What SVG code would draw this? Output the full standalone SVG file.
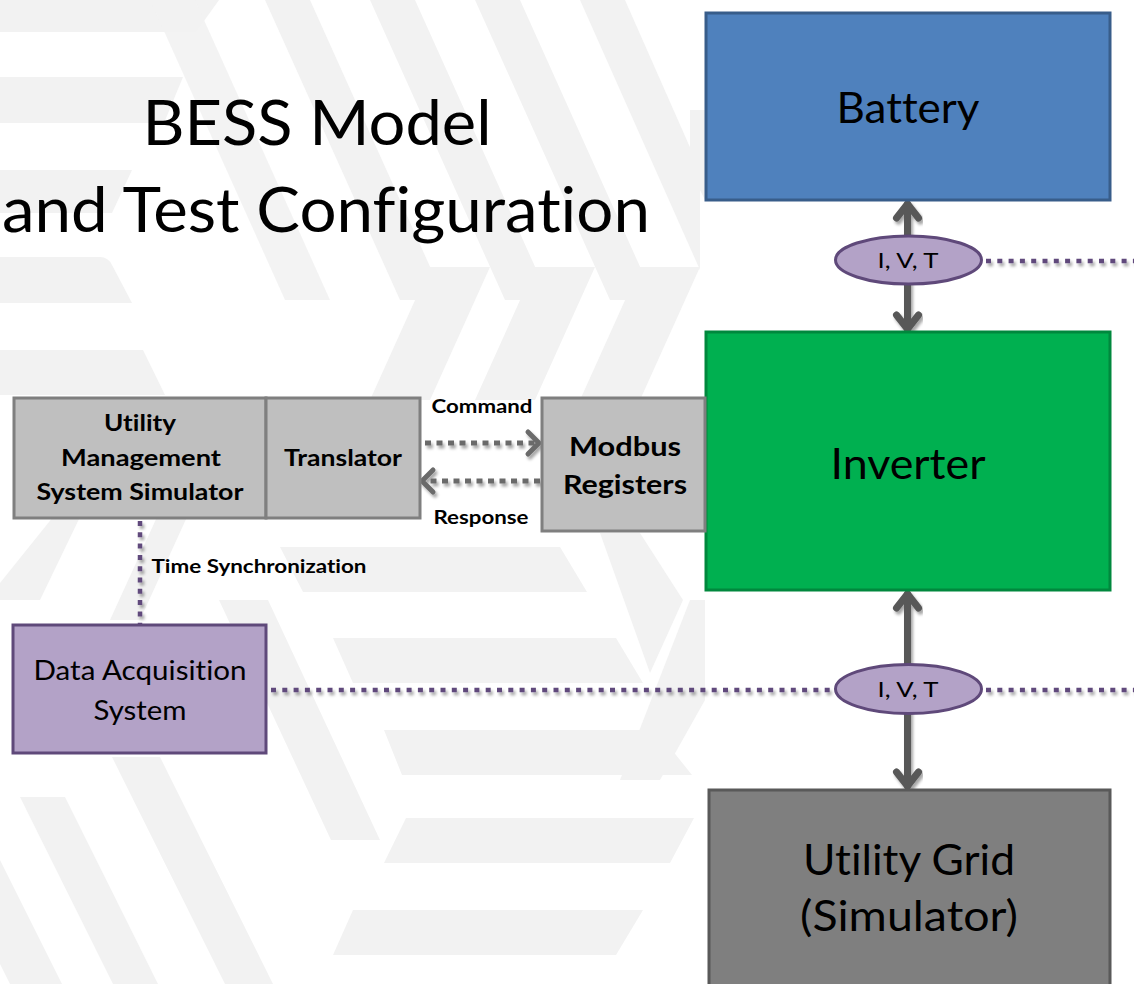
<svg xmlns="http://www.w3.org/2000/svg" width="1134" height="984" viewBox="0 0 1134 984">
  <defs>
    <style>
      .bg { fill: #f2f2f2; }
      .lbl { font-family: Lato, "Liberation Sans", sans-serif; fill: #000; text-anchor: middle; font-variant-ligatures: none; }
      .b { font-weight: bold; }
      .box { stroke-width: 3; }
      .power { stroke: #595959; stroke-width: 7; fill: none; stroke-linecap: round; stroke-linejoin: round; }
      .cmd { stroke: #6b6b6b; stroke-width: 5; fill: none; stroke-dasharray: 6 5.5; }
      .head { stroke: #6b6b6b; stroke-width: 5; fill: none; stroke-linecap: round; stroke-linejoin: round; }
      .sense { stroke: #604a7b; stroke-width: 4.5; fill: none; stroke-dasharray: 5 6.3; }
    </style>
    <filter id="shadow" x="-20%" y="-20%" width="140%" height="140%">
      <feDropShadow dx="2" dy="3" stdDeviation="1.6" flood-color="#000" flood-opacity="0.35"/>
    </filter>
  </defs>

  <rect width="1134" height="984" fill="#fff"/>

  <!-- faint background chevron pattern -->
  <g id="pattern">
    <path class="bg" d="M0,0 H219 L196,32 H0 Z"/>
    <path class="bg" d="M0,77 H183 L164,123 H0 Z"/>
    <path class="bg" d="M0,170 H132 L112,213 H0 Z"/>
    <path class="bg" d="M0,257 H100 Q108,257 112,265 L132,303 H0 Z"/>
    <path class="bg" d="M0,350 H143 L165,395 H0 Z"/>
    <path class="bg" d="M265,0 H310 L445,300 H400 Z"/>
    <path class="bg" d="M370,0 H415 L550,300 H505 Z"/>
    <path class="bg" d="M475,0 H520 L655,300 H610 Z"/>
    <path class="bg" d="M580,0 H625 L700,170 V270 Z"/>
    <path class="bg" d="M150,0 H195 L330,300 H285 Z" opacity="0.9"/>
    <path class="bg" d="M430,267 H490 L430,400 H370 Z"/>
    <path class="bg" d="M535,267 H595 L535,400 H475 Z"/>
    <path class="bg" d="M640,267 H700 L640,400 H580 Z"/>
    <path class="bg" d="M53,517 H80 L40,600 H0 V583 Z"/>
    <path class="bg" d="M157,517 H187 L140,620 H110 Z"/>
    <path class="bg" d="M280,547 H560 L587,592 H303 Z"/>
    <path class="bg" d="M333,638 H616 L643,683 H353 Z"/>
    <path class="bg" d="M384,730 H656 L692,775 H402 Z"/>
    <path class="bg" d="M406,818 H694 L670,863 H384 Z"/>
    <path class="bg" d="M353,910 H643 L616,955 H333 Z"/>
    <path class="bg" d="M219,600 H268 L380,840 H331 Z"/>
    <path class="bg" d="M112,757 H160 L273,984 H225 Z"/>
    <path class="bg" d="M20,797 H65 L158,984 H113 Z"/>
    <path class="bg" d="M0,860 L62,984 H10 L0,964 Z"/>
    <path class="bg" d="M600,533 H640 L683,600 L650,673 Z"/>
    <path class="bg" d="M690,110 L705,110 V200 L690,170 Z"/>
    <path class="bg" d="M690,600 H705 V700 L660,780 H620 Z"/>
  </g>

  <!-- title -->
  <g id="title">
    <text class="lbl" x="317" y="145" font-size="62" textLength="349" lengthAdjust="spacingAndGlyphs">BESS Model</text>
    <text class="lbl" x="326" y="232" font-size="62" textLength="648" lengthAdjust="spacingAndGlyphs">and Test Configuration</text>
  </g>

  <!-- connectors -->
  <g id="connectors">
    <g filter="url(#shadow)">
      <!-- battery <-> inverter -->
      <path class="power" d="M907.5,204 V329"/>
      <path class="power" d="M896.5,218 L907.5,204 L918.5,218"/>
      <path class="power" d="M896.5,315 L907.5,329 L918.5,315"/>
      <!-- inverter <-> grid -->
      <path class="power" d="M907.5,594 V786"/>
      <path class="power" d="M896.5,608 L907.5,594 L918.5,608"/>
      <path class="power" d="M896.5,772 L907.5,786 L918.5,772"/>
    </g>
    <g filter="url(#shadow)">
      <!-- command / response -->
      <path class="cmd" d="M425,443 H535"/>
      <path class="head" d="M528,432 L539,443 L528,454"/>
      <path class="cmd" d="M540,481 H427"/>
      <path class="head" d="M433,470 L422,481 L433,492"/>
    </g>
    <g filter="url(#shadow)">
      <!-- measurement / sync lines -->
      <path class="sense" d="M986,261 H1134"/>
      <path class="sense" d="M271,690 H834"/>
      <path class="sense" d="M986,690 H1134"/>
      <path class="sense" d="M140,521 V624"/>
    </g>
  </g>

  <!-- nodes -->
  <g id="battery">
    <rect class="box" x="706" y="13" width="404" height="187" fill="#4f81bd" stroke="#385d8a"/>
    <text class="lbl" x="908" y="123" font-size="42" textLength="143" lengthAdjust="spacingAndGlyphs">Battery</text>
  </g>

  <g id="inverter">
    <rect class="box" x="706" y="332" width="404" height="258" fill="#00b050" stroke="#00883d"/>
    <text class="lbl" x="908" y="479" font-size="42" textLength="155" lengthAdjust="spacingAndGlyphs">Inverter</text>
  </g>

  <g id="grid">
    <rect class="box" x="709" y="790" width="401" height="200" fill="#7f7f7f" stroke="#595959"/>
    <text class="lbl" x="909" y="875" font-size="42" textLength="212" lengthAdjust="spacingAndGlyphs">Utility Grid</text>
    <text class="lbl" x="909" y="931" font-size="42" textLength="218" lengthAdjust="spacingAndGlyphs">(Simulator)</text>
  </g>

  <g id="sensor-dc">
    <ellipse class="box" cx="908.5" cy="260" rx="73" ry="24" fill="#b3a2c7" stroke="#5f497a"/>
    <text class="lbl" x="908" y="268" font-size="22" textLength="61" lengthAdjust="spacingAndGlyphs">I, V, T</text>
  </g>

  <g id="sensor-ac">
    <ellipse class="box" cx="908.5" cy="689" rx="73" ry="24.5" fill="#b3a2c7" stroke="#5f497a"/>
    <text class="lbl" x="908" y="697" font-size="22" textLength="61" lengthAdjust="spacingAndGlyphs">I, V, T</text>
  </g>

  <g id="modbus">
    <rect class="box" x="542" y="398" width="163" height="133" fill="#bfbfbf" stroke="#7f7f7f"/>
    <text class="lbl b" x="625" y="456" font-size="26" textLength="112" lengthAdjust="spacingAndGlyphs">Modbus</text>
    <text class="lbl b" x="625" y="494" font-size="26" textLength="124" lengthAdjust="spacingAndGlyphs">Registers</text>
  </g>

  <g id="ums">
    <rect class="box" x="14" y="398" width="252" height="120" fill="#bfbfbf" stroke="#7f7f7f"/>
    <text class="lbl b" x="140" y="431" font-size="22" textLength="72" lengthAdjust="spacingAndGlyphs">Utility</text>
    <text class="lbl b" x="141" y="466" font-size="22" textLength="160" lengthAdjust="spacingAndGlyphs">Management</text>
    <text class="lbl b" x="140" y="500" font-size="22" textLength="207" lengthAdjust="spacingAndGlyphs">System Simulator</text>
  </g>

  <g id="translator">
    <rect class="box" x="266" y="398" width="154" height="120" fill="#bfbfbf" stroke="#7f7f7f"/>
    <text class="lbl b" x="343" y="466" font-size="22" textLength="118" lengthAdjust="spacingAndGlyphs">Translator</text>
  </g>

  <g id="daq">
    <rect class="box" x="13" y="625" width="253" height="128" fill="#b3a2c7" stroke="#5f497a"/>
    <text class="lbl" x="140" y="680" font-size="27" textLength="213" lengthAdjust="spacingAndGlyphs">Data Acquisition</text>
    <text class="lbl" x="140" y="720" font-size="27" textLength="93" lengthAdjust="spacingAndGlyphs">System</text>
  </g>

  <!-- connector labels -->
  <g id="labels">
    <text class="lbl b" x="482" y="413" font-size="19" textLength="101" lengthAdjust="spacingAndGlyphs">Command</text>
    <text class="lbl b" x="481" y="524" font-size="19" textLength="95" lengthAdjust="spacingAndGlyphs">Response</text>
    <text class="lbl b" x="259" y="573" font-size="19" textLength="215" lengthAdjust="spacingAndGlyphs">Time Synchronization</text>
  </g>
</svg>
